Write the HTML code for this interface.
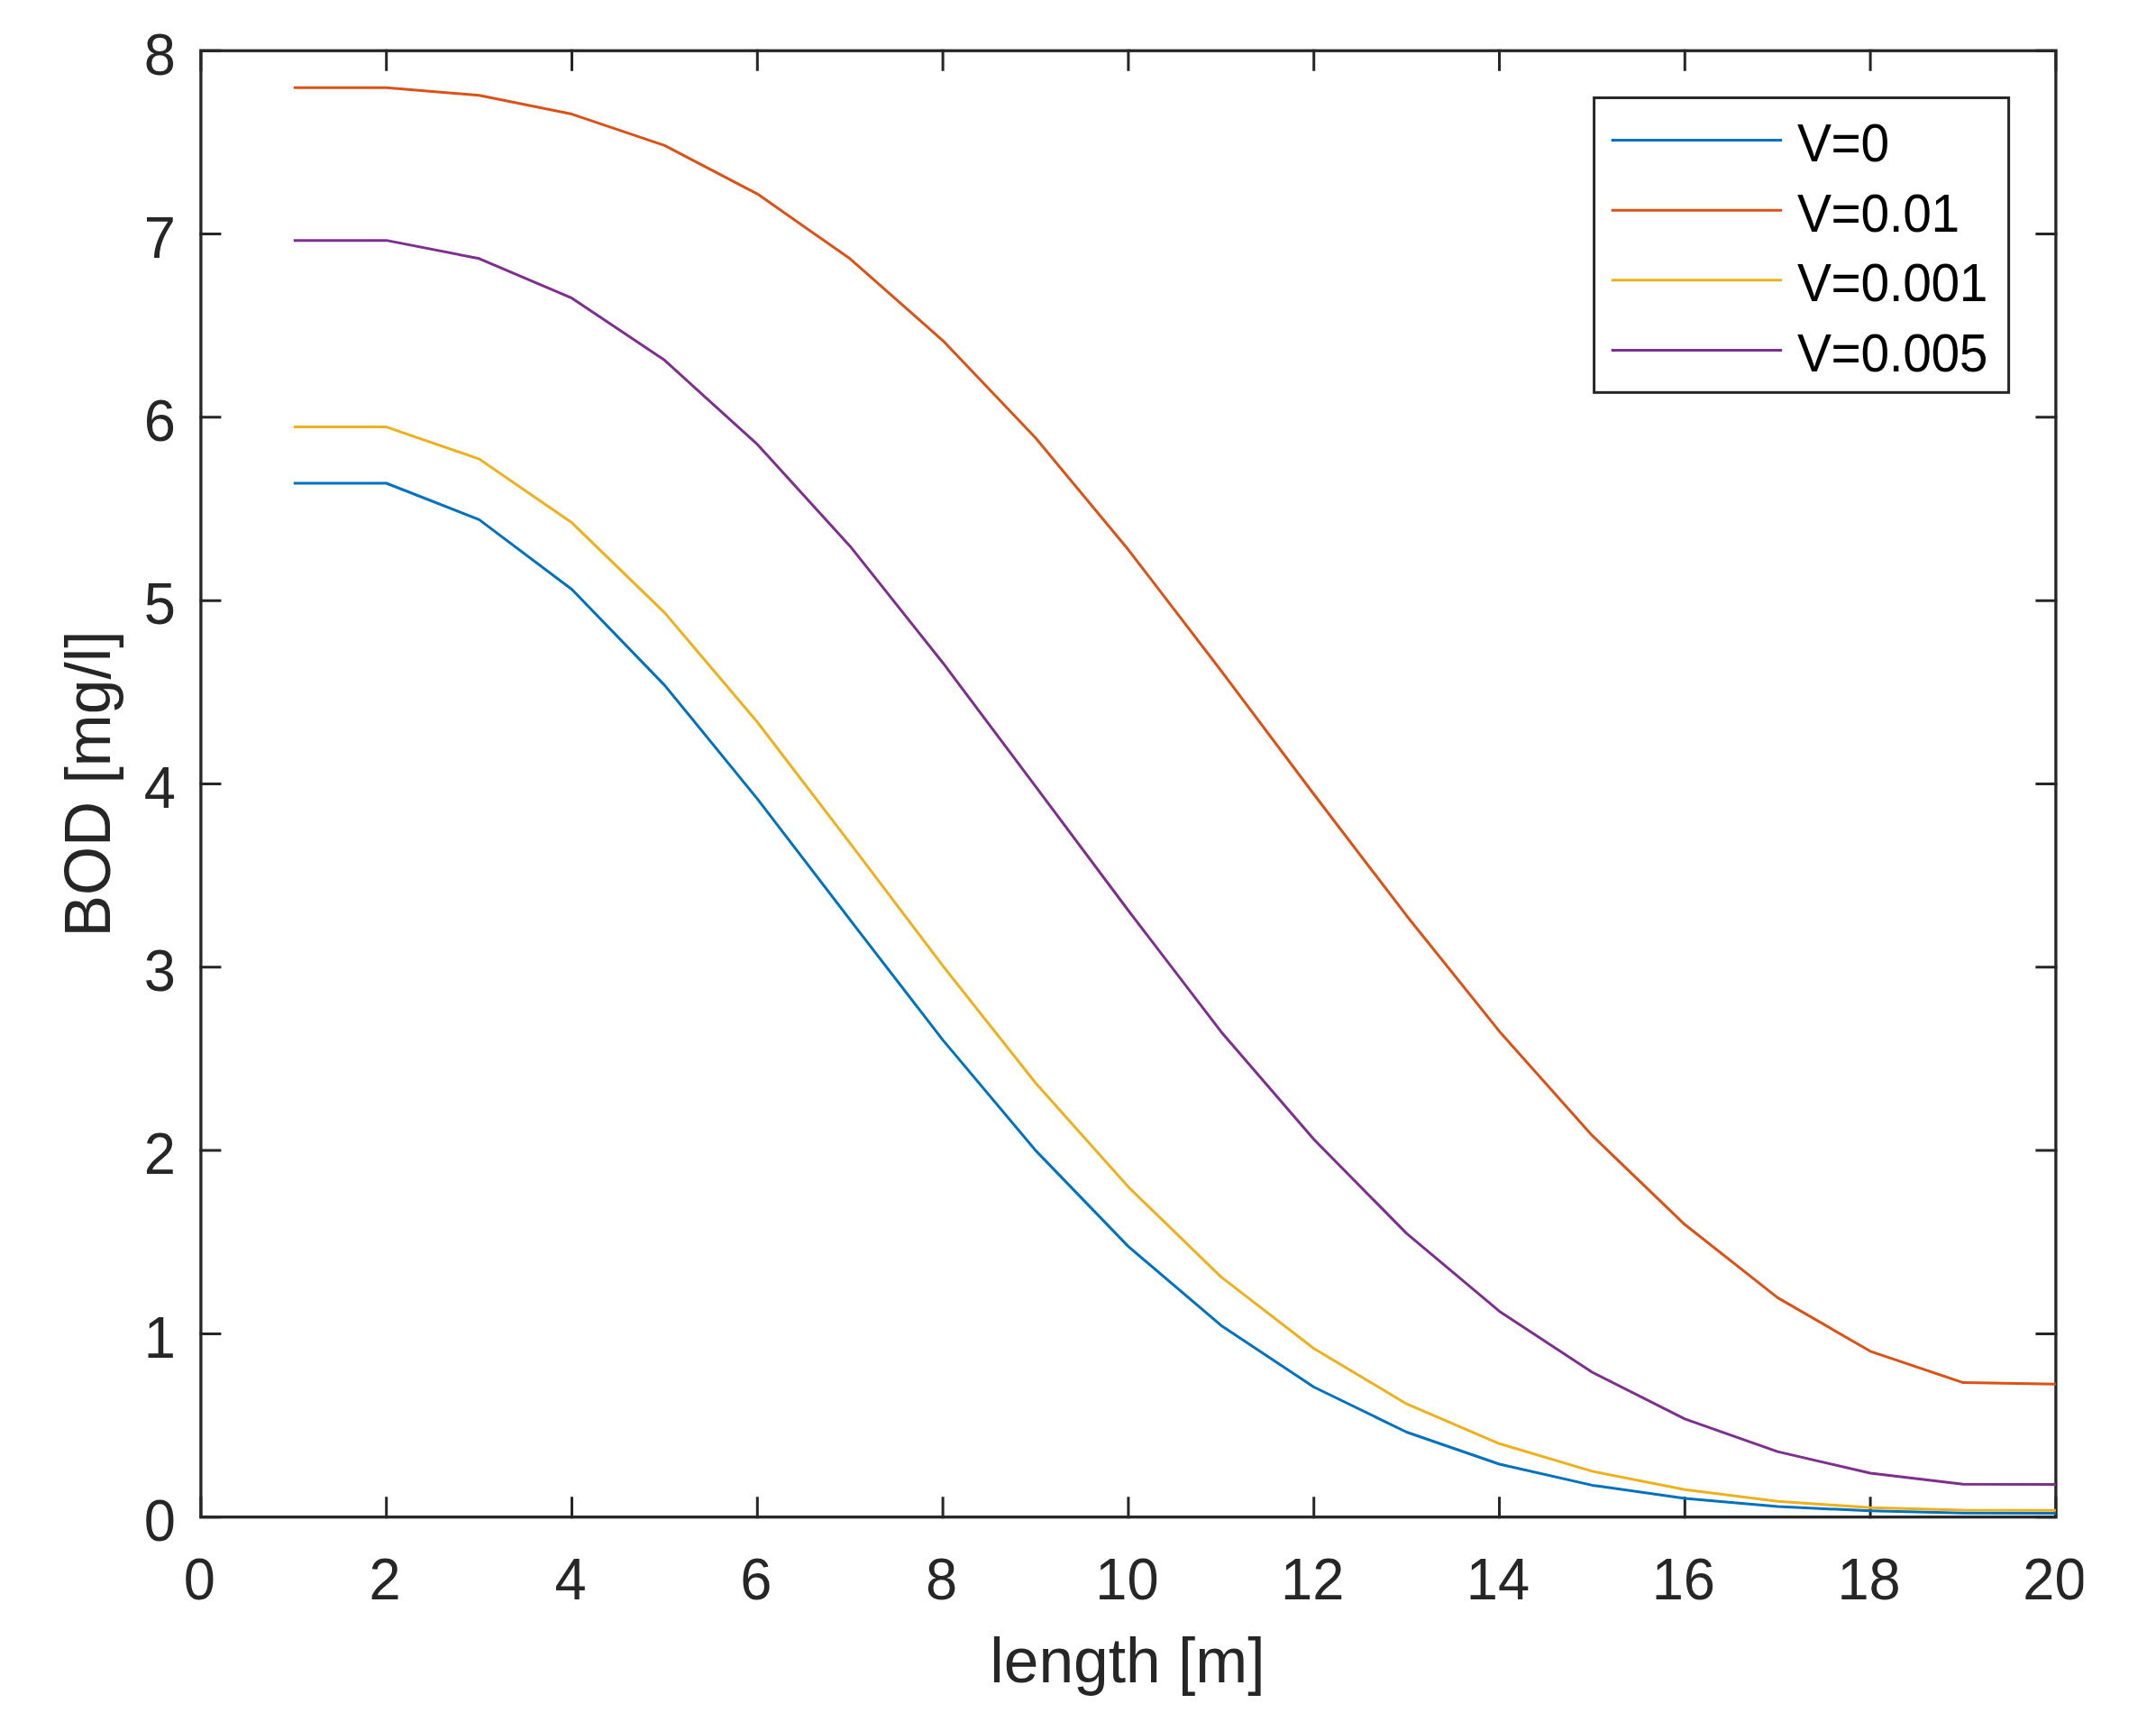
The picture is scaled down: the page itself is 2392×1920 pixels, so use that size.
<!DOCTYPE html>
<html lang="en"><head><meta charset="utf-8"><title>BOD vs length</title>
<style>html,body{margin:0;padding:0;background:#fff;overflow:hidden}svg{display:block}text{font-family:"Liberation Sans",sans-serif;fill:#262626}.t{font-size:63.2px}.l{font-size:69.5px}.g{font-size:56.9px;fill:#000;letter-spacing:-0.35px}</style></head><body>
<svg width="2392" height="1920" viewBox="0 0 2392 1920">
<rect x="0" y="0" width="2392" height="1920" fill="#fff"/>
<g stroke="#262626" stroke-width="3.3" fill="none" stroke-linecap="square">
<rect x="222.90" y="56.25" width="2058.00" height="1626.45"/>
</g>
<g stroke="#262626" stroke-width="3.0" fill="none" stroke-linecap="square">
<path d="M222.90 1682.70V1661.70M222.90 56.25V77.25M428.70 1682.70V1661.70M428.70 56.25V77.25M634.50 1682.70V1661.70M634.50 56.25V77.25M840.30 1682.70V1661.70M840.30 56.25V77.25M1046.10 1682.70V1661.70M1046.10 56.25V77.25M1251.90 1682.70V1661.70M1251.90 56.25V77.25M1457.70 1682.70V1661.70M1457.70 56.25V77.25M1663.50 1682.70V1661.70M1663.50 56.25V77.25M1869.30 1682.70V1661.70M1869.30 56.25V77.25M2075.10 1682.70V1661.70M2075.10 56.25V77.25M2280.90 1682.70V1661.70M2280.90 56.25V77.25M222.90 1682.70H243.90M2280.90 1682.70H2259.90M222.90 1479.39H243.90M2280.90 1479.39H2259.90M222.90 1276.09H243.90M2280.90 1276.09H2259.90M222.90 1072.78H243.90M2280.90 1072.78H2259.90M222.90 869.48H243.90M2280.90 869.48H2259.90M222.90 666.17H243.90M2280.90 666.17H2259.90M222.90 462.86H243.90M2280.90 462.86H2259.90M222.90 259.56H243.90M2280.90 259.56H2259.90M222.90 56.25H243.90M2280.90 56.25H2259.90"/>
</g>
<polyline points="325.80,536.00 428.70,536.00 531.60,576.40 634.50,653.80 737.40,760.10 840.30,886.10 943.20,1020.30 1046.10,1153.60 1149.00,1276.10 1251.90,1382.60 1354.80,1470.20 1457.70,1538.50 1560.60,1588.50 1663.50,1624.00 1766.40,1647.40 1869.30,1662.00 1972.20,1671.10 2075.10,1675.75 2178.00,1678.30 2280.90,1678.60" fill="none" stroke="#0072BD" stroke-width="3.0" stroke-linejoin="round" stroke-linecap="butt"/>
<polyline points="325.80,97.34 428.70,97.34 531.60,105.69 634.50,126.56 737.40,161.35 840.30,215.10 943.20,287.10 1046.10,377.80 1149.00,485.80 1251.90,609.80 1354.80,744.00 1457.70,881.00 1560.60,1015.70 1663.50,1143.90 1766.40,1259.40 1869.30,1358.30 1972.20,1439.40 2075.10,1498.80 2178.00,1533.60 2280.90,1535.20" fill="none" stroke="#D95319" stroke-width="3.0" stroke-linejoin="round" stroke-linecap="butt"/>
<polyline points="325.80,473.60 428.70,473.60 531.60,509.10 634.50,579.80 737.40,679.60 840.30,801.00 943.20,935.40 1046.10,1071.30 1149.00,1201.20 1251.90,1316.60 1354.80,1416.40 1457.70,1495.70 1560.60,1557.20 1663.50,1601.30 1766.40,1631.90 1869.30,1652.30 1972.20,1665.30 2075.10,1672.30 2178.00,1675.05 2280.90,1675.30" fill="none" stroke="#EDB120" stroke-width="3.0" stroke-linejoin="round" stroke-linecap="butt"/>
<polyline points="325.80,266.63 428.70,266.63 531.60,286.80 634.50,330.64 737.40,399.60 840.30,492.90 943.20,605.90 1046.10,735.20 1149.00,872.30 1251.90,1010.00 1354.80,1144.40 1457.70,1263.80 1560.60,1368.10 1663.50,1454.40 1766.40,1522.00 1869.30,1573.80 1972.20,1610.10 2075.10,1634.00 2178.00,1646.30 2280.90,1646.50" fill="none" stroke="#7E2F8E" stroke-width="3.0" stroke-linejoin="round" stroke-linecap="butt"/>
<text class="t" transform="translate(221.40 1773.80) scale(1 1.03)" text-anchor="middle">0</text>
<text class="t" transform="translate(427.20 1773.80) scale(1 1.03)" text-anchor="middle">2</text>
<text class="t" transform="translate(633.00 1773.80) scale(1 1.03)" text-anchor="middle">4</text>
<text class="t" transform="translate(838.80 1773.80) scale(1 1.03)" text-anchor="middle">6</text>
<text class="t" transform="translate(1044.60 1773.80) scale(1 1.03)" text-anchor="middle">8</text>
<text class="t" transform="translate(1250.40 1773.80) scale(1 1.03)" text-anchor="middle">10</text>
<text class="t" transform="translate(1456.20 1773.80) scale(1 1.03)" text-anchor="middle">12</text>
<text class="t" transform="translate(1662.00 1773.80) scale(1 1.03)" text-anchor="middle">14</text>
<text class="t" transform="translate(1867.80 1773.80) scale(1 1.03)" text-anchor="middle">16</text>
<text class="t" transform="translate(2073.60 1773.80) scale(1 1.03)" text-anchor="middle">18</text>
<text class="t" transform="translate(2279.40 1773.80) scale(1 1.03)" text-anchor="middle">20</text>
<text class="t" transform="translate(195.00 1709.00) scale(1 1.03)" text-anchor="end">0</text>
<text class="t" transform="translate(195.00 1505.69) scale(1 1.03)" text-anchor="end">1</text>
<text class="t" transform="translate(195.00 1302.39) scale(1 1.03)" text-anchor="end">2</text>
<text class="t" transform="translate(195.00 1099.08) scale(1 1.03)" text-anchor="end">3</text>
<text class="t" transform="translate(195.00 895.77) scale(1 1.03)" text-anchor="end">4</text>
<text class="t" transform="translate(195.00 692.47) scale(1 1.03)" text-anchor="end">5</text>
<text class="t" transform="translate(195.00 489.16) scale(1 1.03)" text-anchor="end">6</text>
<text class="t" transform="translate(195.00 285.86) scale(1 1.03)" text-anchor="end">7</text>
<text class="t" transform="translate(195.00 82.55) scale(1 1.03)" text-anchor="end">8</text>
<text class="l" x="1250.90" y="1865.80" text-anchor="middle">length [m]</text>
<g transform="translate(121.70 869.48) rotate(-90)">
<text class="l" transform="translate(-169.92 0) scale(1 1.043)">BOD</text>
<text class="l" x="0.00" y="0">[mg/l]</text>
</g>
<rect x="1768.60" y="108.45" width="460.00" height="326.90" fill="#fff" stroke="#262626" stroke-width="3.0"/>
<line x1="1787.7" x2="1977.1" y1="155.50" y2="155.50" stroke="#0072BD" stroke-width="3.0"/>
<text class="g" transform="translate(1994 179.00) scale(1 1.038)">V=0</text>
<line x1="1787.7" x2="1977.1" y1="233.20" y2="233.20" stroke="#D95319" stroke-width="3.0"/>
<text class="g" transform="translate(1994 256.70) scale(1 1.038)">V=0.01</text>
<line x1="1787.7" x2="1977.1" y1="310.70" y2="310.70" stroke="#EDB120" stroke-width="3.0"/>
<text class="g" transform="translate(1994 334.20) scale(1 1.038)">V=0.001</text>
<line x1="1787.7" x2="1977.1" y1="388.50" y2="388.50" stroke="#7E2F8E" stroke-width="3.0"/>
<text class="g" transform="translate(1994 412.00) scale(1 1.038)">V=0.005</text>
<rect x="2311.3" y="1700" width="80.7" height="100" fill="#fff"/>
</svg></body></html>
